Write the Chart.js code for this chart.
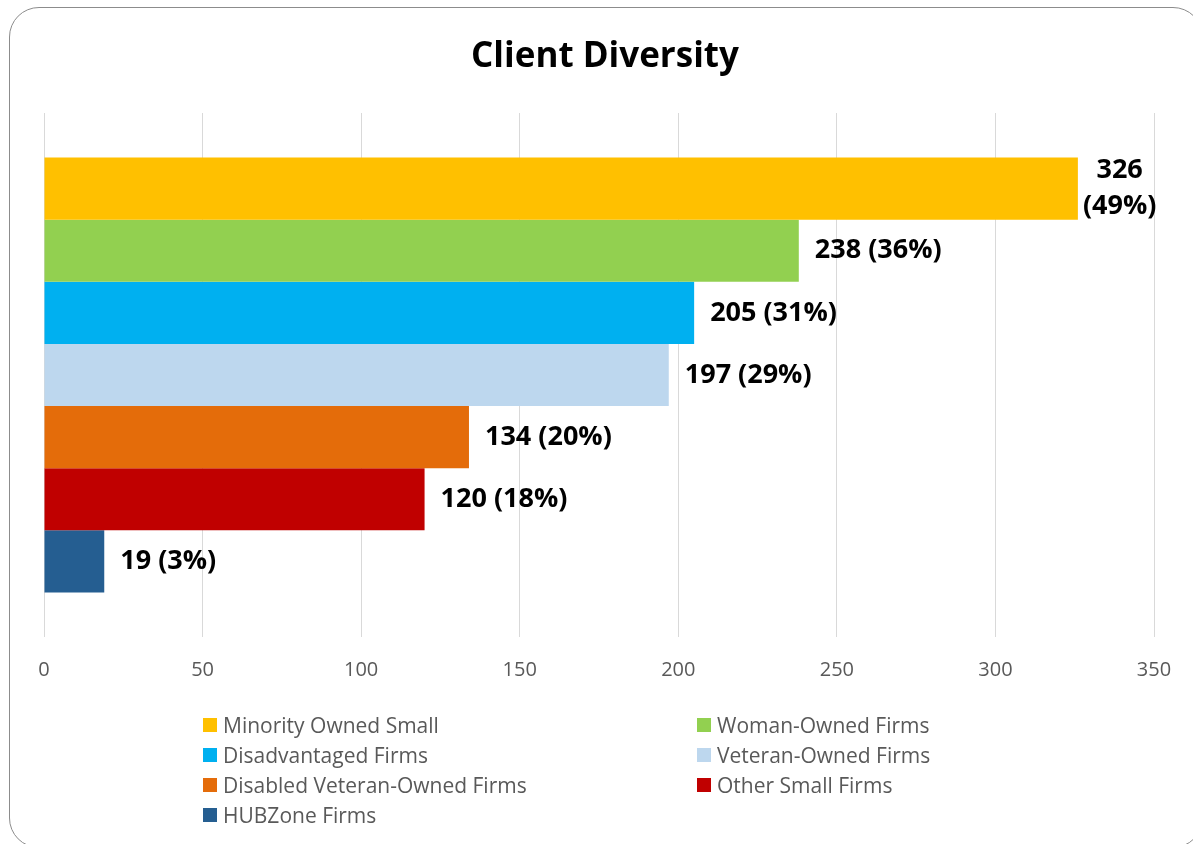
<!DOCTYPE html>
<html>
<head>
<meta charset="utf-8">
<title>Client Diversity</title>
<script src="https://cdn.jsdelivr.net/npm/chart.js@4.4.1/dist/chart.umd.min.js"></script>
<style>
  html, body { margin: 0; padding: 0; background: #fff; overflow: hidden; }
  #wrap { position: relative; width: 1193px; height: 844px; }
  #frame {
    position: absolute; left: 9px; top: 7px; width: 1194px; height: 841px;
    border: 1.5px solid #8c8c8c; border-radius: 30px; box-sizing: border-box;
  }
  #chart { position: absolute; left: 0; top: 0; }
  #title {
    position: absolute; left: 0; top: 34px; width: 1210px; text-align: center;
    font-family: 'Open Sans', sans-serif; font-weight: bold; font-size: 35px;
    line-height: 40px; color: #000;
  }
  #legend {
    position: absolute; left: 203px; top: 710px;
    display: grid; grid-template-columns: 494px 300px; grid-auto-rows: 30px;
    font-family: 'Open Sans', sans-serif; font-size: 21px; color: #595959;
  }
  .item { display: flex; align-items: center; white-space: nowrap; }
  .box { width: 14px; height: 14px; margin-right: 6px; flex: none; }
</style>
</head>
<body>
<div id="wrap">
  <div id="frame"></div>
  <canvas id="chart" width="1193" height="844"></canvas>
  <div id="title">Client Diversity</div>
  <div id="legend"></div>
</div>
<script>
const categories = ['Minority Owned Small', 'Woman-Owned Firms', 'Disadvantaged Firms',
  'Veteran-Owned Firms', 'Disabled Veteran-Owned Firms', 'Other Small Firms', 'HUBZone Firms'];
const counts = [326, 238, 205, 197, 134, 120, 19];
const percents = [49, 36, 31, 29, 20, 18, 3];
const colors = ['#FFC000', '#92D050', '#00B0F0', '#BDD7EE', '#E46C0A', '#C00000', '#255E91'];
const xTicks = [0, 50, 100, 150, 200, 250, 300, 350];

// one dataset per firm type so each gets its own colour and legend entry
const datasets = categories.map((name, i) => ({
  label: name,
  data: [counts[i]],
  backgroundColor: colors[i],
  borderWidth: 0
}));

// value + share written to the right of each bar
const barLabels = {
  id: 'barLabels',
  afterDatasetsDraw(chart) {
    const ctx = chart.ctx;
    ctx.save();
    ctx.font = 'bold 27px "Open Sans"';
    ctx.fillStyle = '#000';
    ctx.textBaseline = 'middle';
    chart.data.datasets.forEach((ds, i) => {
      const bar = chart.getDatasetMeta(i).data[0];
      const first = String(ds.data[0]);
      const second = '(' + percents[i] + '%)';
      const text = first + ' ' + second;
      const x = bar.x + 16;
      if (x + ctx.measureText(text).width > chart.width - 12) {
        // not enough room: break into two centred lines
        const w = Math.max(ctx.measureText(first).width, ctx.measureText(second).width);
        const cx = bar.x + 5 + w / 2;
        ctx.textAlign = 'center';
        ctx.fillText(first, cx, bar.y - 18);
        ctx.fillText(second, cx, bar.y + 18);
      } else {
        ctx.textAlign = 'left';
        ctx.fillText(text, x, bar.y);
      }
    });
    ctx.restore();
  }
};

const chart = new Chart(document.getElementById('chart'), {
  type: 'bar',
  data: { labels: [''], datasets: datasets },
  options: {
    indexAxis: 'y',
    responsive: false,
    animation: false,
    categoryPercentage: 0.83,
    barPercentage: 1,
    layout: { padding: { left: 44, right: 39, top: 113, bottom: 141 } },
    scales: {
      x: {
        min: 0,
        max: 350,
        afterBuildTicks: axis => { axis.ticks = xTicks.map(v => ({ value: v })); },
        grid: { color: '#D9D9D9', lineWidth: 1, drawTicks: false },
        border: { display: false },
        ticks: { color: '#595959', padding: 21, font: { family: 'Open Sans', size: 20 } }
      },
      y: { display: false }
    },
    plugins: {
      legend: { display: false },
      tooltip: { enabled: false },
      title: { display: false }
    }
  },
  plugins: [barLabels]
});

// two-column legend below the plot
const legend = document.getElementById('legend');
chart.data.datasets.forEach(ds => {
  const item = document.createElement('div');
  item.className = 'item';
  const box = document.createElement('span');
  box.className = 'box';
  box.style.background = ds.backgroundColor;
  const label = document.createElement('span');
  label.textContent = ds.label;
  item.appendChild(box);
  item.appendChild(label);
  legend.appendChild(item);
});
</script>
</body>
</html>
